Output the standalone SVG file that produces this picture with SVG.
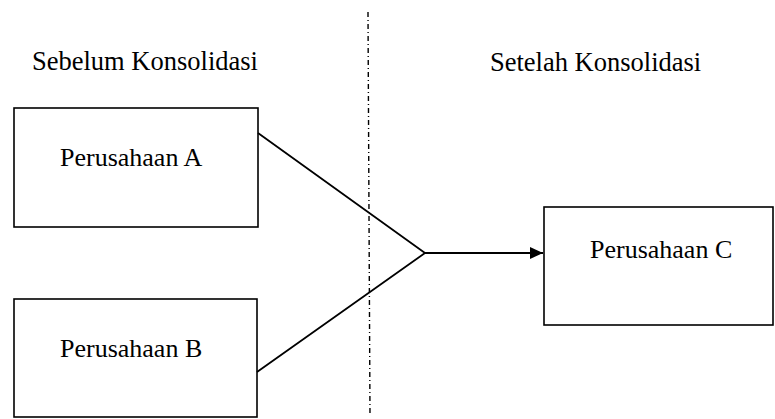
<svg xmlns="http://www.w3.org/2000/svg" width="775" height="419" viewBox="0 0 775 419">
<style>
.box{fill:none;stroke:#000;stroke-width:1.6}
.lbl{font-family:"Liberation Serif","Times New Roman",serif;font-size:26px;fill:#000}
.hdr{font-size:26.5px}
.ln{stroke:#000;stroke-width:1.8;fill:none}
.div{stroke:#000;stroke-width:1.4;stroke-dasharray:5 3 1 3;fill:none}
</style>
<defs>
<marker id="arr" viewBox="0 0 13 12" refX="13" refY="6" markerWidth="13" markerHeight="12" markerUnits="userSpaceOnUse" orient="auto">
<path d="M0,0 L13,6 L0,12 z" fill="#000"/>
</marker>
</defs>
<rect width="775" height="419" fill="#fff"/>
<text class="lbl hdr" x="32" y="70">Sebelum Konsolidasi</text>
<text class="lbl hdr" x="490" y="71">Setelah Konsolidasi</text>
<g id="divider"><line class="div" x1="368" y1="12" x2="370" y2="416"/></g>
<g id="nodeA"><rect class="box" x="14" y="108" width="244" height="119"/><text class="lbl" x="60" y="166">Perusahaan A</text></g>
<g id="nodeB"><rect class="box" x="14" y="299" width="243" height="118"/><text class="lbl" x="60" y="357">Perusahaan B</text></g>
<g id="nodeC"><rect class="box" x="544" y="207" width="229" height="118"/><text class="lbl" x="590" y="258">Perusahaan C</text></g>
<g id="connectors">
<polyline class="ln" points="258,133 425,253 257,372"/>
<line class="ln" x1="425" y1="253" x2="543" y2="253" marker-end="url(#arr)"/>
</g>
</svg>
